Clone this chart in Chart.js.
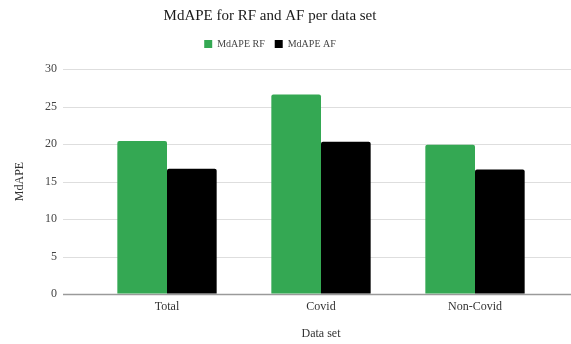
<!DOCTYPE html>
<html>
<head>
<meta charset="utf-8">
<script src="https://cdn.jsdelivr.net/npm/chart.js@4/dist/chart.umd.min.js"></script>
<style>
  html, body { margin: 0; padding: 0; background: #fff; }
  #wrap { width: 571px; height: 344px; }
</style>
</head>
<body>
<div id="wrap"><canvas id="c"></canvas></div>
<script>
// Median absolute percentage error per data set
const categories = ['Total', 'Covid', 'Non-Covid'];
const mdapeRF = [20.4, 26.6, 19.9];
const mdapeAF = [16.7, 20.3, 16.6];
const yTicks = [0, 5, 10, 15, 20, 25, 30];

const SERIF = '"Liberation Serif", "Times New Roman", serif';
const GRID_LEFT = 63;   // gridlines start just right of the tick labels
const GRID_RIGHT = 571; // and run to the right edge

// Horizontal gridlines and the zero baseline, spanning wider than the bar bands
const wideGrid = {
  id: 'wideGrid',
  beforeDatasetsDraw(chart) {
    const { ctx, scales } = chart;
    const y = scales.y;
    ctx.save();
    yTicks.forEach(v => {
      const py = Math.round(y.getPixelForValue(v)) + 0.5;
      ctx.beginPath();
      ctx.lineWidth = v === 0 ? 1.5 : 1;
      ctx.strokeStyle = v === 0 ? '#9a9a9a' : '#dedede';
      ctx.moveTo(GRID_LEFT, py);
      ctx.lineTo(GRID_RIGHT, py);
      ctx.stroke();
    });
    ctx.restore();
  }
};

// Give the legend a little more room below it
const legendSpace = {
  id: 'legendSpace',
  afterInit(chart) {
    const legend = chart.legend;
    if (!legend) return;
    const fit = legend.fit;
    legend.fit = function () {
      fit.call(this);
      this.height = 40;
    };
  }
};

new Chart(document.getElementById('c'), {
  type: 'bar',
  data: {
    labels: categories,
    datasets: [
      { label: 'MdAPE RF', data: mdapeRF, backgroundColor: '#34a853', borderRadius: 2, borderSkipped: 'bottom' },
      { label: 'MdAPE AF', data: mdapeAF, backgroundColor: '#000000', borderRadius: 2, borderSkipped: 'bottom' }
    ]
  },
  options: {
    responsive: true,
    maintainAspectRatio: false,
    animation: false,
    layout: { padding: { left: -12, right: 19, top: 0, bottom: 0 } },
    datasets: { bar: { categoryPercentage: 0.645, barPercentage: 1.0 } },
    plugins: {
      title: {
        display: true,
        text: 'MdAPE for RF and AF per data set',
        color: '#1a1a1a',
        font: { family: SERIF, size: 15, weight: 'normal' },
        padding: { top: 7, bottom: 4 }
      },
      legend: {
        display: true,
        position: 'top',
        labels: {
          color: '#444',
          font: { family: SERIF, size: 10 },
          boxWidth: 8,
          boxHeight: 8,
          padding: 10
        }
      },
      tooltip: { enabled: false }
    },
    scales: {
      x: {
        grid: { display: false, drawTicks: false },
        border: { display: false },
        ticks: { color: '#333', font: { family: SERIF, size: 12 }, padding: 6 },
        title: {
          display: true, text: 'Data set', color: '#333',
          font: { family: SERIF, size: 12 }, padding: { top: 0, bottom: 3 }
        },
        afterFit(scale) { scale.height = 50; }
      },
      y: {
        min: 0, max: 30,
        afterBuildTicks(scale) { scale.ticks = yTicks.map(v => ({ value: v })); },
        grid: { drawOnChartArea: false, drawTicks: false },
        border: { display: false },
        ticks: { color: '#444', font: { family: SERIF, size: 12 }, padding: 33 },
        title: {
          display: true, text: 'MdAPE', color: '#333',
          font: { family: SERIF, size: 12 }, padding: { top: 25, bottom: 0 }
        },
        afterFit(scale) { scale.width = 102; }
      }
    }
  },
  plugins: [wideGrid, legendSpace]
});
</script>
</body>
</html>
